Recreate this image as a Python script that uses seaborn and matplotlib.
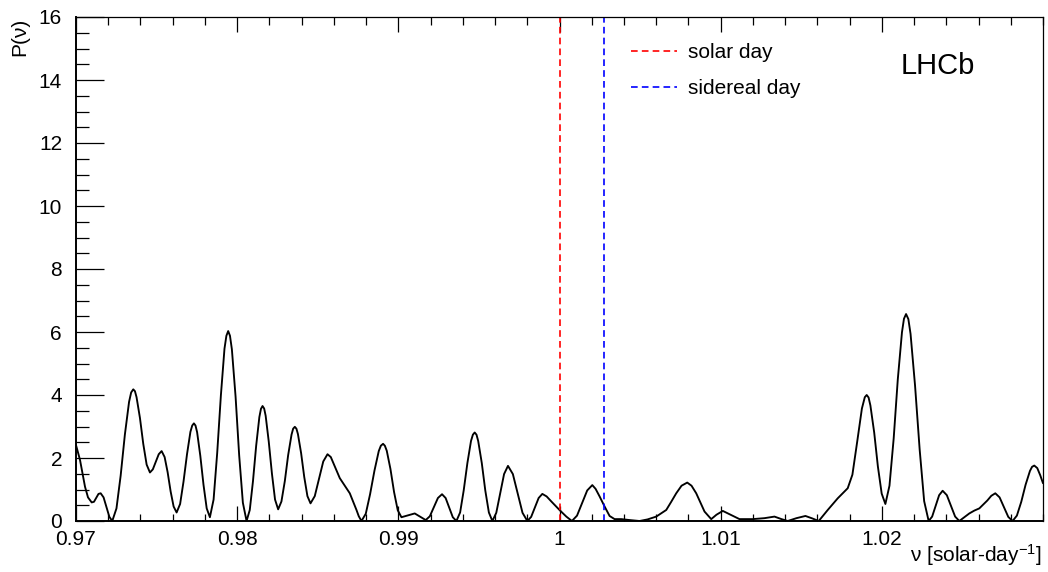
import numpy as np
import pandas as pd
import seaborn as sns
import matplotlib
matplotlib.use("Agg")
import matplotlib.pyplot as plt
from matplotlib.ticker import MultipleLocator, FixedFormatter, FixedLocator

# ---- data (frequency in solar-day^-1, periodogram power) ----
nu = [
    0.970000, 0.970248, 0.970558, 0.970744, 0.970973, 0.971116, 0.971252, 0.971395, 0.971531,
    0.971711, 0.971891, 0.972071, 0.972251, 0.972511, 0.972771, 0.973032, 0.973292, 0.973422,
    0.973553, 0.973658, 0.973757, 0.973968, 0.974173, 0.974383, 0.974588, 0.974768, 0.974954,
    0.975134, 0.975313, 0.975499, 0.975685, 0.975871, 0.976057, 0.976243, 0.976460, 0.976671,
    0.976888, 0.977099, 0.977211, 0.977316, 0.977415, 0.977514, 0.977713, 0.977911, 0.978110,
    0.978308, 0.978537, 0.978761, 0.978990, 0.979213, 0.979331, 0.979443, 0.979554, 0.979672,
    0.979901, 0.980125, 0.980354, 0.980583, 0.980782, 0.980980, 0.981179, 0.981377, 0.981476,
    0.981575, 0.981675, 0.981768, 0.981960, 0.982158, 0.982350, 0.982543, 0.982747, 0.982958,
    0.983163, 0.983373, 0.983473, 0.983578, 0.983677, 0.983770, 0.983969, 0.984161, 0.984359,
    0.984551, 0.984815, 0.985078, 0.985342, 0.985605, 0.985810, 0.986058, 0.986368, 0.986678,
    0.986988, 0.987403, 0.987546, 0.987713, 0.987980, 0.988247, 0.988519, 0.988786, 0.988916,
    0.989053, 0.989164, 0.989282, 0.989511, 0.989735, 0.989964, 0.990193, 0.990603, 0.991018,
    0.991359, 0.991700, 0.991954, 0.992208, 0.992456, 0.992711, 0.992934, 0.993157, 0.993380,
    0.993603, 0.993833, 0.994056, 0.994285, 0.994509, 0.994626, 0.994738, 0.994850, 0.994955,
    0.995178, 0.995395, 0.995618, 0.995835, 0.996077, 0.996319, 0.996561, 0.996803, 0.997106,
    0.997404, 0.997705, 0.998005, 0.998241, 0.998470, 0.998706, 0.998935, 0.999202, 0.999493,
    1.000000, 1.000423, 1.000771, 1.001087, 1.001403, 1.001719, 1.002035, 1.002240, 1.002488,
    1.002798, 1.003108, 1.003418, 1.003833, 1.004348, 1.004968, 1.005464, 1.006003, 1.006623,
    1.006921, 1.007243, 1.007572, 1.007925, 1.008192, 1.008483, 1.008750, 1.008998, 1.009413,
    1.009742, 1.010133, 1.010653, 1.011168, 1.011993, 1.012718, 1.013338, 1.013772, 1.014163,
    1.014702, 1.015260, 1.015694, 1.016085, 1.016643, 1.017263, 1.017883, 1.018174, 1.018472,
    1.018763, 1.018943, 1.019061, 1.019178, 1.019290, 1.019526, 1.019755, 1.019991, 1.020220,
    1.020474, 1.020735, 1.020989, 1.021249, 1.021373, 1.021503, 1.021646, 1.021782, 1.022061,
    1.022347, 1.022626, 1.022905, 1.023122, 1.023339, 1.023556, 1.023773, 1.024033, 1.024293,
    1.024548, 1.024808, 1.025118, 1.025428, 1.025738, 1.026048, 1.026544, 1.026792, 1.027040,
    1.027307, 1.027579, 1.027846, 1.028113, 1.028379, 1.028652, 1.028919, 1.029191, 1.029322,
    1.029458, 1.029644, 1.029830, 1.030000,
]
power = [
    2.41, 1.94, 1.09, 0.75, 0.59, 0.61, 0.735, 0.86, 0.88,
    0.75, 0.44, 0.13, 0.00, 0.40, 1.44, 2.74, 3.78, 4.08,
    4.18, 4.12, 3.93, 3.27, 2.45, 1.79, 1.54, 1.64, 1.88,
    2.12, 2.22, 2.03, 1.55, 0.94, 0.46, 0.27, 0.54, 1.25,
    2.12, 2.83, 3.03, 3.10, 3.03, 2.82, 2.07, 1.15, 0.40,
    0.12, 0.68, 2.16, 3.99, 5.47, 5.88, 6.03, 5.88, 5.45,
    3.95, 2.08, 0.58, 0.00, 0.35, 1.26, 2.39, 3.30, 3.56,
    3.65, 3.57, 3.34, 2.52, 1.50, 0.68, 0.37, 0.62, 1.27,
    2.09, 2.74, 2.93, 2.99, 2.93, 2.76, 2.15, 1.40, 0.79,
    0.56, 0.79, 1.34, 1.89, 2.12, 2.03, 1.73, 1.36, 1.12,
    0.88, 0.35, 0.15, 0.00, 0.23, 0.85, 1.60, 2.22, 2.39,
    2.45, 2.39, 2.23, 1.65, 0.92, 0.34, 0.12, 0.18, 0.24,
    0.135, 0.03, 0.15, 0.44, 0.73, 0.85, 0.73, 0.425, 0.12,
    0.00, 0.27, 0.97, 1.84, 2.54, 2.74, 2.81, 2.74, 2.54,
    1.84, 0.97, 0.27, 0.00, 0.26, 0.875, 1.49, 1.75, 1.49,
    0.875, 0.26, 0.00, 0.13, 0.43, 0.73, 0.86, 0.78, 0.62,
    0.35, 0.14, 0.00, 0.17, 0.57, 0.97, 1.14, 1.02, 0.78,
    0.46, 0.16, 0.06, 0.06, 0.03, 0.00, 0.05, 0.14, 0.35,
    0.60, 0.88, 1.12, 1.22, 1.12, 0.88, 0.58, 0.30, 0.06,
    0.20, 0.32, 0.19, 0.06, 0.06, 0.09, 0.14, 0.06, 0.00,
    0.09, 0.16, 0.08, 0.00, 0.35, 0.72, 1.04, 1.47, 2.52,
    3.57, 3.93, 4.00, 3.92, 3.67, 2.81, 1.73, 0.87, 0.54,
    1.12, 2.62, 4.49, 5.99, 6.42, 6.57, 6.41, 5.94, 4.30,
    2.27, 0.63, 0.00, 0.14, 0.48, 0.82, 0.96, 0.82, 0.48,
    0.14, 0.00, 0.12, 0.24, 0.33, 0.40, 0.65, 0.80, 0.88,
    0.75, 0.44, 0.13, 0.00, 0.17, 0.61, 1.15, 1.59, 1.72,
    1.76, 1.68, 1.45, 1.20,
]

solar_day = 1.0
sidereal_day = 1.0027379
ref_labels = ["solar day", "sidereal day"]
ref_colors = ["#ff0000", "#0000ff"]
x_ticks = [0.97, 0.98, 0.99, 1.00, 1.01, 1.02]
x_ticklabels = ["0.97", "0.98", "0.99", "1", "1.01", "1.02"]

df = pd.DataFrame({"nu": nu, "P": power})

sns.set_theme(style="ticks")
plt.rcParams["font.family"] = ["Liberation Sans", "DejaVu Sans"]
plt.rcParams["mathtext.fontset"] = "custom"
plt.rcParams["mathtext.rm"] = "Liberation Sans"
plt.rcParams["mathtext.it"] = "Liberation Sans:italic"
plt.rcParams["mathtext.bf"] = "Liberation Sans:bold"
for key in ["text.color", "axes.labelcolor", "xtick.color", "ytick.color", "axes.edgecolor"]:
    plt.rcParams[key] = "black"

fig = plt.figure(figsize=(10.48, 5.72), dpi=100)
ax = fig.add_axes([76 / 1048, 1 - 521 / 572, (1043 - 76) / 1048, (521 - 17) / 572])

sns.lineplot(data=df, x="nu", y="P", ax=ax, color="black", linewidth=1.35,
             estimator=None, sort=False)

ax.axvline(solar_day, color=ref_colors[0], linestyle=(0, (4, 2.5)), linewidth=1.2,
           label=ref_labels[0])
ax.axvline(sidereal_day, color=ref_colors[1], linestyle=(0, (4, 2.5)), linewidth=1.2,
           label=ref_labels[1])

ax.set_xlim(0.97, 1.03)
ax.set_ylim(0, 16)

ax.xaxis.set_major_locator(FixedLocator(x_ticks))
ax.xaxis.set_major_formatter(FixedFormatter(x_ticklabels))
ax.xaxis.set_minor_locator(MultipleLocator(0.002))
ax.yaxis.set_major_locator(MultipleLocator(2))
ax.yaxis.set_minor_locator(MultipleLocator(0.5))

ax.tick_params(axis="x", which="major", direction="in", length=10.8, width=0.9,
               top=True, bottom=True, labelsize=15, pad=6.5)
ax.tick_params(axis="x", which="minor", direction="in", length=5.4, width=0.9,
               top=True, bottom=True)
ax.tick_params(axis="y", which="major", direction="in", length=20, width=0.9,
               left=True, right=False, labelsize=15, pad=10)
ax.tick_params(axis="y", which="minor", direction="in", length=9.5, width=0.9,
               left=True, right=False)

for side in ["left", "bottom"]:
    ax.spines[side].set_linewidth(1.4)
for side in ["top", "right"]:
    ax.spines[side].set_visible(True)
    ax.spines[side].set_linewidth(0.9)

ax.set_xlabel("")
ax.set_ylabel("")

fig.text(20 / 1048, 1 - 18 / 572, "P(ν)", rotation=90, ha="center", va="top",
         fontsize=15)
fig.text(1042 / 1048, 1 - 562 / 572, r"ν [solar-day$^{\mathregular{-1}}$]",
         ha="right", va="baseline", fontsize=15)

ax.text(938 / 1048, 1 - 66 / 572, "LHCb", transform=fig.transFigure,
        ha="center", va="center", fontsize=21)

leg = ax.legend(loc="upper left", bbox_to_anchor=(631 / 1048, 1 - 43 / 572),
                bbox_transform=fig.transFigure, frameon=False, fontsize=15,
                borderpad=0, borderaxespad=0,
                handlelength=2.2, handletextpad=0.55, labelspacing=0.84)

fig.savefig("out.png", dpi=100)
